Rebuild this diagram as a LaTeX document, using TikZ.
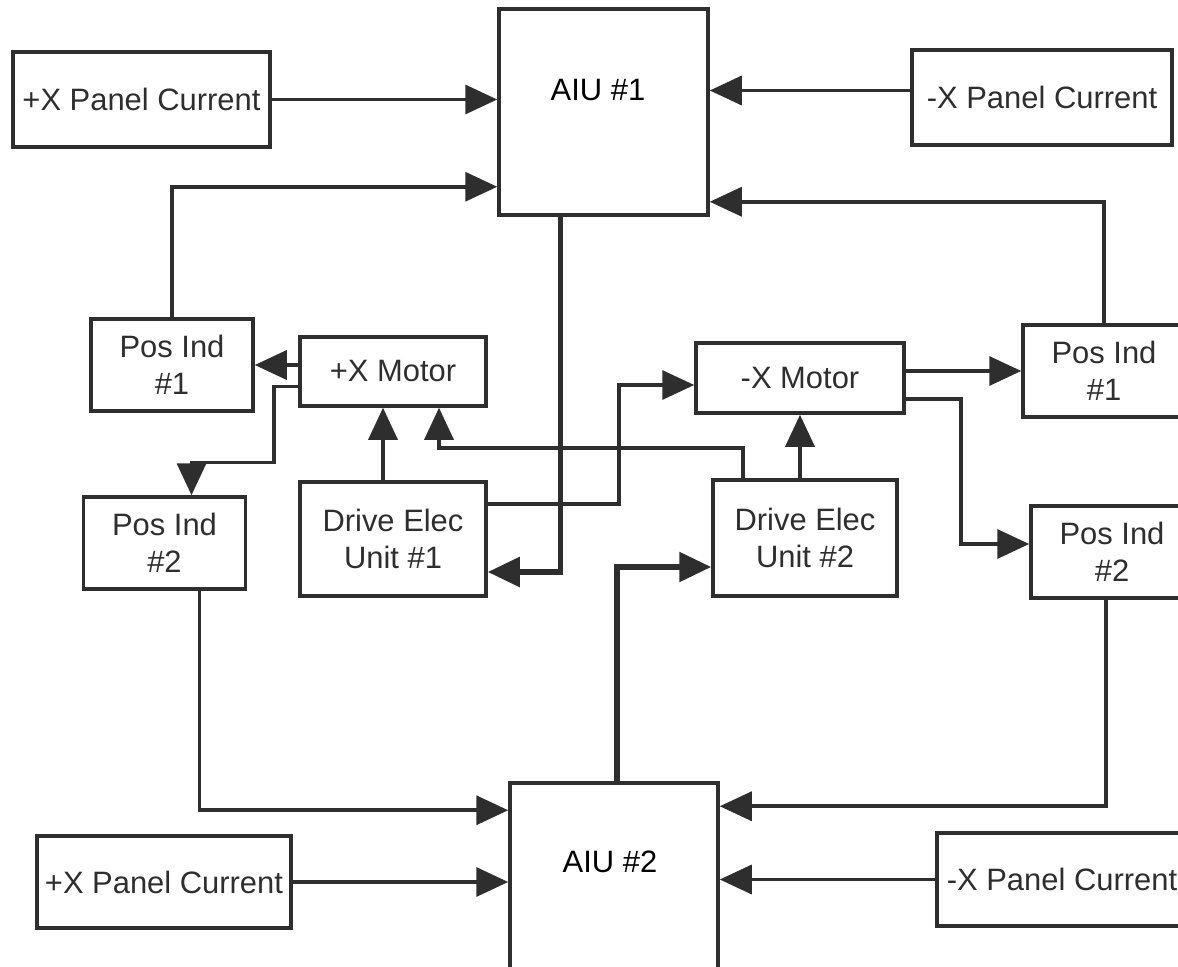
\documentclass[tikz,border=0pt]{standalone}
\usepackage{fontspec}
\setmainfont{Liberation Sans}
\usetikzlibrary{arrows.meta,calc}
\definecolor{ink}{gray}{0.18}

\begin{document}
\begin{tikzpicture}[x=0.02cm,y=-0.02cm,
      every node/.style={font=\fontsize{17.6}{21}\selectfont,text=ink},
      blk/.style 2 args={draw=ink,line width=2pt,minimum width=#1*0.02cm,
        minimum height=#2*0.02cm,inner sep=0pt,align=center},
      sig/.style={draw=ink,line width=2pt,-{Triangle[length=0.64cm,width=0.58cm]}},
      bus/.style={sig,line width=3.2pt}]
    \useasboundingbox (0,0) rectangle (1178,967);
    \clip (0,0) rectangle (1178,967);
    % interface units
    \node[blk={209}{206},label={[xshift=-0.11cm,yshift=0.44cm,text=black]center:AIU \#1}] (aiuA) at (603.5,112) {};
    \node[blk={208}{240},label={[xshift=-0.08cm,yshift=0.82cm,text=black]center:AIU \#2}] (aiuB) at (614,903) {};
    % panel currents
    \foreach \nm/\cx/\cy/\w/\h/\t in {pxpA/141.5/99.5/257/95/+X Panel Current,
        mxpA/1042/97.5/260/95/-X Panel Current,pxpB/164/882/254/92/+X Panel Current,
        mxpB/1062/879.5/250/93/-X Panel Current}
      \node[blk={\w}{\h}] (\nm) at (\cx,\cy) {\t};
    % position indicators
    \foreach \nm/\cx/\cy/\k in {posL1/172/365/1,posL2/164.5/543/2,posR1/1104/371/1,posR2/1112/552/2}
      \node[blk={162}{92}] (\nm) at (\cx,\cy) {Pos Ind\\\#\k};
    \node[blk={186}{69}] (motP) at (393,371.5) {+X Motor};
    \node[blk={208}{70}] (motM) at (800,378) {-X Motor};
    \node[blk={186}{114}] (deuA) at (393,539) {Drive Elec\\Unit \#1};
    \node[blk={184}{116}] (deuB) at (805,538) {Drive Elec\\Unit \#2};

    % into AIU #1
    \draw[sig] (pxpA.east) -- (pxpA.east -| aiuA.west);
    \coordinate (mA) at ($(mxpA.west)+(0,-7)$);
    \draw[sig] (mA) -- (mA -| aiuA.east);
    \draw[sig] (posL1.north) |- ($(aiuA.south west)+(0,-30)$);
    \draw[sig] (posR1.north) |- ($(aiuA.south east)+(0,-15)$);
    % motors
    \draw[sig] (motP.west |- posL1.east) -- (posL1.east);
    \draw[sig] ($(motP.west)+(0,15)$) -- ++(-24,0) -- ++(0,76) -| ($(posL2.north)+(27,0)$);
    \draw[sig] ($(deuA.north)+(-10,0)$) -- ($(motP.south)+(-10,0)$);
    \draw[sig] ($(deuB.north)+(-62,0)$) -- ++(0,-30) -| ($(motP.south)+(46,0)$);
    \draw[sig] ($(deuA.east)+(0,-35)$) -- ++(131,0) |- ($(motM.west)+(0,7)$);
    \draw[sig] (deuB.north -| motM.south) -- (motM.south);
    \draw[sig] (motM.east |- posR1.west) -- (posR1.west);
    \draw[sig] ($(motM.east)+(0,21)$) -- ++(55,0) |- ($(posR2.west)+(0,-8)$);
    % drive units
    \draw[bus] ($(aiuA.south)+(-43,0)$) |- ($(deuA.east)+(0,33)$);
    \draw[bus] ($(aiuB.north)+(3,0)$) |- ($(deuB.west)+(0,29)$);
    % into AIU #2
    \draw[sig] ($(posL2.south)+(35,0)$) |- ($(aiuB.north west)+(0,29)$);
    \draw[sig] ($(posR2.south)+(-6,0)$) |- ($(aiuB.north east)+(0,25)$);
    \draw[sig] (pxpB.east) -- (pxpB.east -| aiuB.west);
    \draw[sig] (mxpB.west) -- (mxpB.west -| aiuB.east);
  \end{tikzpicture}
\end{document}
